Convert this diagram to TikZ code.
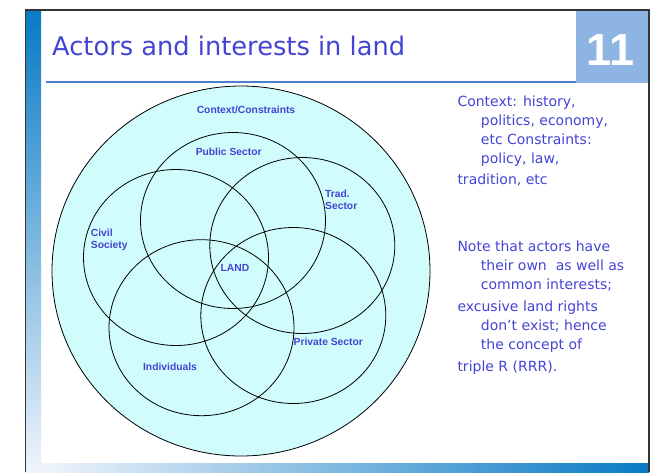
\documentclass[tikz,border=0pt]{standalone}
\usepackage{fontspec}
\setmainfont{DejaVu Sans}
\newfontfamily\arialfont{Liberation Sans}
\usetikzlibrary{shapes.geometric,positioning}
\definecolor{azultexto}{RGB}{68,68,212}
\definecolor{cian}{RGB}{208,252,252}
\definecolor{azulbarra}{RGB}{8,122,196}
\definecolor{palido}{RGB}{240,244,251}
\definecolor{azulcaja}{RGB}{141,180,226}
\definecolor{azullinea}{RGB}{74,127,208}
\tikzstyle{circulo}=[
	ellipse,
	draw=black,
	line width=0.8,
	inner sep=0,
	minimum width=185,
	minimum height=176]
\tikzstyle{etiqueta}=[
	text=azultexto,
	inner sep=0,
	align=left,
	font=\arialfont\bfseries\fontsize{10.3}{12}\selectfont]
\tikzstyle{nota}=[
	text=azultexto,
	inner sep=0,
	align=left,
	anchor=north west,
	font=\fontsize{14}{19.2}\selectfont]

\begin{document}
\begin{tikzpicture}[x=1pt,y=-1pt]
	\useasboundingbox (0,0) rectangle (655,472);
	% marco de la diapositiva
	\shade[top color=azulbarra,bottom color=palido] (26,10) rectangle (41,472);
	\shade[left color=palido,right color=azulbarra] (41,463) rectangle (649,472);
	\fill[azulcaja] (576,10) rectangle (649,82.5);
	\draw[azullinea,line width=1.5] (46,82) -- (576,82);
	\draw[black!80,line width=1.5] (25.5,472) -- (25.5,10) -- (649,10) -- (649,472);
	\node[text=azultexto,inner sep=0,anchor=base west,font=\fontsize{25.7}{30}\selectfont] (titulo) at (52,55.7) {Actors and interests in land};
	\node[text=white,inner sep=0,anchor=base,font=\arialfont\bfseries\fontsize{45}{50}\selectfont] (numero) at (610.5,65) {11};
	% actores
	\node[circulo,fill=cian,minimum width=378,minimum height=370] (contexto) at (241,271) {};
	\node[circulo] (publico) at (233,220.5) {};
	\node[circulo] (tradicional) at (302.3,245.5) {};
	\node[circulo] (civil) at (176,257.5) {};
	\node[circulo] (individuos) at (201.5,327.7) {};
	\node[circulo] (privado) at (293.3,315.5) {};
	\node[etiqueta] (lcontexto) at (246,110.3) {Context/Constraints};
	\node[etiqueta] (lpublico) at (228.7,152.3) {Public Sector};
	\node[etiqueta,anchor=west] (ltradicional) at (325,199.7) {Trad.\\Sector};
	\node[etiqueta,anchor=west] (lcivil) at (90.7,240.3) {Civil\\Society};
	\node[etiqueta] (ltierra) at (235,268.3) {LAND};
	\node[etiqueta] (lprivado) at (328.3,342.3) {Private Sector};
	\node[etiqueta] (lindividuos) at (170,367.3) {Individuals};
	% notas
	\node[nota] (ncontexto) at (457.3,95.4) {Context: history,\\
		\hspace*{23.4pt}politics, economy,\\
		\hspace*{23.4pt}etc Constraints:\\
		\hspace*{23.4pt}policy, law,\\[1.3pt]
		tradition, etc};
	\node[nota] (nactores) at (457.3,240.4) {Note that actors have\\
		\hspace*{23.4pt}their own\ \ as well as\\
		\hspace*{23.4pt}common interests;\\[2.5pt]
		excusive land rights\\
		\hspace*{23.4pt}don’t exist; hence\\
		\hspace*{23.4pt}the concept of\\[2.5pt]
		triple R (RRR).};
\end{tikzpicture}
\end{document}
